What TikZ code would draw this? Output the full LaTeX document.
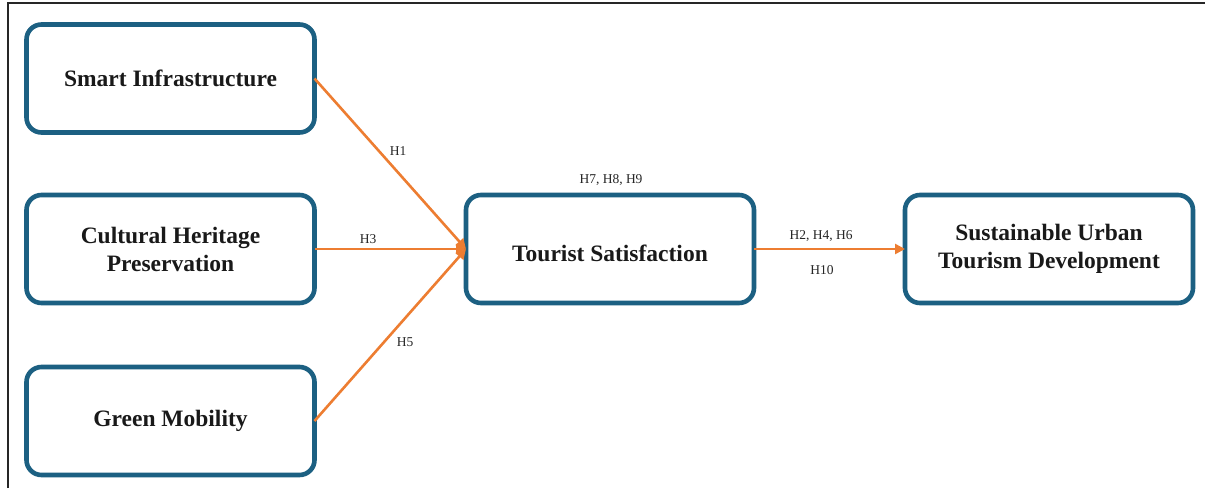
\documentclass[tikz,border=0pt]{standalone}
\usepackage{fontspec}
\setmainfont{Liberation Serif}
\usetikzlibrary{arrows.meta}
\definecolor{boxblue}{RGB}{28,96,130}
\definecolor{arrorange}{RGB}{237,125,49}
\begin{document}
\begin{tikzpicture}[x=1pt,y=-1pt,
  mainbox/.style={draw=boxblue, line width=4.6pt, rounded corners=15pt, fill=white,
    minimum width=288pt, minimum height=108pt, inner sep=0pt, outer sep=0pt,
    align=center, font=\fontsize{23.5}{28}\selectfont\bfseries, text=black!90},
  link/.style={draw=arrorange, line width=2.6pt, -{Triangle[length=10pt,width=10pt]}},
  hlabel/.style={font=\fontsize{13.5}{15}\selectfont, text=black!85, inner sep=0pt}]
\useasboundingbox (0,0) rectangle (1205,488);
\fill[white] (0,0) rectangle (1205,488);
\coordinate (fTL) at (8,3);
\coordinate (fTR) at (1205,3);
\coordinate (fBL) at (8,488);
\draw[line width=2pt, black!85] (fBL) -- (fTL) -- (fTR);

\node[mainbox] (smart) at (170.5,78.5) {Smart Infrastructure};
\node[mainbox] (cult) at (170.5,249) {Cultural Heritage\\Preservation};
\node[mainbox] (green) at (170.5,421) {Green Mobility};
\node[mainbox, text height=24pt, text depth=0pt] (tour) at (610,249) {Tourist Satisfaction};
\node[mainbox] (sust) at (1049,249) {Sustainable Urban\\Tourism Development};

\draw[link] (smart.east) -- (tour.west);
\draw[link] (cult.east) -- (tour.west);
\draw[link] (green.east) -- (tour.west);
\draw[link] (tour.east) -- (sust.west);

\node[hlabel] (h1) at (398,151) {H1};
\node[hlabel] (h3) at (368,239) {H3};
\node[hlabel] (h5) at (405,342) {H5};
\node[hlabel] (h789) at (611,180) {H7, H8, H9};
\node[hlabel] (h246) at (821,236) {H2, H4, H6};
\node[hlabel] (h10) at (822,270) {H10};
\end{tikzpicture}
\end{document}
